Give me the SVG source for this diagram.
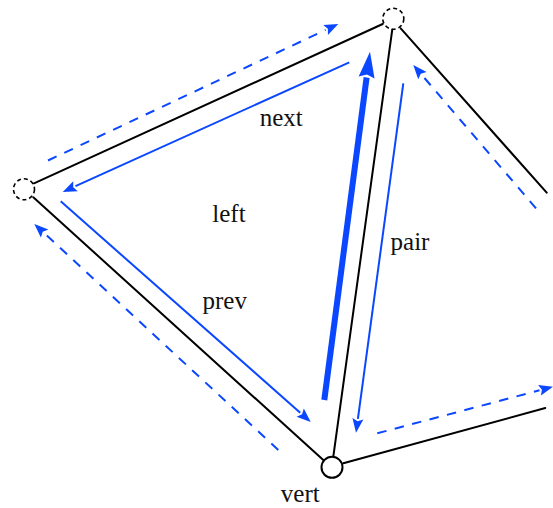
<svg xmlns="http://www.w3.org/2000/svg" width="553" height="508" viewBox="0 0 553 508">
<style>
.edge{stroke:#000;stroke-width:2;fill:none;stroke-linecap:round}
.he{stroke:#0a47ff;stroke-width:2;fill:none}
.dash{stroke-dasharray:9.5 8.5}
.thick{stroke:#0a47ff;stroke-width:6;fill:none}
.lbl{font-family:"Liberation Serif","Times New Roman",serif;font-size:25px;fill:#111;text-anchor:middle}
.vtx{fill:#fff;stroke:#000;stroke-width:2}
.vd{fill:#fff;stroke:#000;stroke-width:1.6;stroke-dasharray:4 3}
</style>
<defs>
<marker id="ah" markerUnits="userSpaceOnUse" markerWidth="16" markerHeight="12" refX="0" refY="5.5" orient="auto" overflow="visible">
<path d="M0,0 L14,5.5 L0,11 L2.5,5.5 Z" fill="#0a47ff"/>
</marker>
<marker id="ahb" markerUnits="userSpaceOnUse" markerWidth="28" markerHeight="18" refX="0" refY="8" orient="auto" overflow="visible">
<path d="M0,0 L26,8 L0,16 L3,8 Z" fill="#0a47ff"/>
</marker>
</defs>
<g id="edges">
<line class="edge" x1="34" y1="183.3" x2="382.7" y2="24"/>
<line class="edge" x1="33.3" y1="197.3" x2="323.3" y2="460"/>
<line class="edge" x1="333.3" y1="456.7" x2="392.3" y2="29.3"/>
<line class="edge" x1="400.7" y1="28.3" x2="546.7" y2="192.7"/>
<line class="edge" x1="343.3" y1="463.3" x2="545.3" y2="408"/>
</g>
<g id="connectors">
<line class="he dash" x1="48" y1="160.5" x2="325.6" y2="29.9" marker-end="url(#ah)"/>
<line class="he" x1="349.3" y1="62.3" x2="75.5" y2="186.2" marker-end="url(#ah)"/>
<line class="he" x1="60.7" y1="201.3" x2="300.2" y2="412.7" marker-end="url(#ah)"/>
<line class="he dash" x1="278.3" y1="450" x2="44.6" y2="233.5" marker-end="url(#ah)"/>
<line class="thick" x1="324.3" y1="400" x2="366.6" y2="77.5" marker-end="url(#ahb)"/>
<line class="he" x1="403.3" y1="83.3" x2="357.9" y2="418.8" marker-end="url(#ah)"/>
<line class="he dash" x1="536" y1="208.3" x2="422.4" y2="75.6" marker-end="url(#ah)"/>
<line class="he dash" x1="377.3" y1="433.3" x2="539.5" y2="390.3" marker-end="url(#ah)"/>
</g>
<g id="vertex-top"><circle class="vd" cx="393.3" cy="18.7" r="10.5"/></g>
<g id="vertex-left"><circle class="vd" cx="24" cy="189.3" r="10.5"/></g>
<g id="vertex-bottom"><circle class="vtx" cx="332" cy="467.3" r="10.5"/></g>
<g id="labels">
<text class="lbl" x="281.3" y="125.7">next</text>
<text class="lbl" x="229" y="221.7">left</text>
<text class="lbl" x="224.7" y="309">prev</text>
<text class="lbl" x="410" y="250">pair</text>
<text class="lbl" x="300.3" y="501.7">vert</text>
</g>
</svg>
